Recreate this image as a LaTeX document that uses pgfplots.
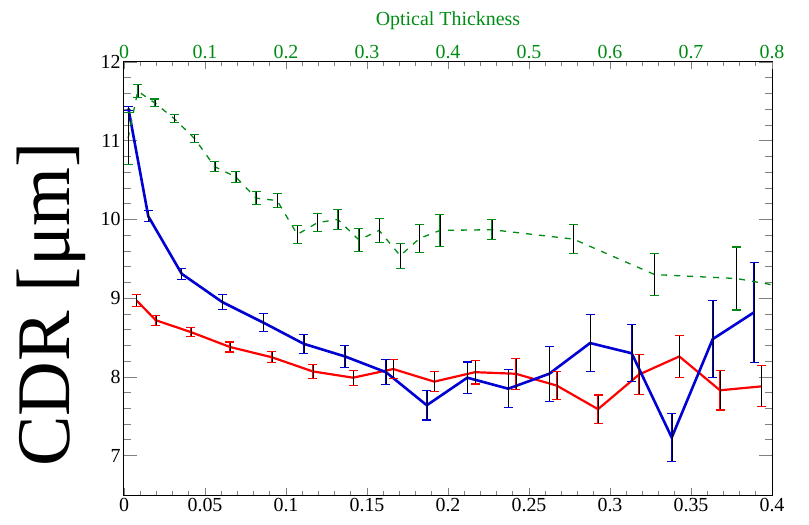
\documentclass[border=0pt]{standalone}
\usepackage{fontspec}
\setmainfont{Liberation Serif}
\usepackage{pgfplots}
\pgfplotsset{compat=1.18}
\definecolor{dgreen}{RGB}{0,140,20}
\definecolor{myblue}{RGB}{0,0,210}
\definecolor{myred}{RGB}{255,0,0}

\pgfplotsset{
  bars/.style={error bars/.cd, y dir=both, y explicit, error mark=none,
    error bar style={draw=#1, line width=1.1bp, solid}},
  caps/.style={draw=none, forget plot, error bars/.cd, y dir=both, y explicit,
    error bar style={draw=none},
    error mark options={rotate=90, mark size=4.5bp, line width=1.1bp, #1, solid}},
}

\pgfplotstableread{
x y e
0.0078 8.97 0.08
0.0196 8.72 0.064
0.0412 8.57 0.057
0.0654 8.38 0.064
0.0912 8.25 0.068
0.1165 8.07 0.085
0.1414 7.99 0.095
0.1662 8.10 0.12
0.1915 7.94 0.127
0.2167 8.06 0.15
0.2418 8.04 0.195
0.2671 7.89 0.18
0.2926 7.59 0.18
0.3179 8.03 0.25
0.3428 8.26 0.27
0.3679 7.83 0.25
0.3936 7.88 0.26
}\redtab

\pgfplotstableread{
x y e
0.0027 11.41 0.03
0.0150 10.04 0.07
0.0356 9.31 0.07
0.0607 8.95 0.095
0.0860 8.69 0.117
0.1110 8.42 0.123
0.1364 8.26 0.14
0.1617 8.06 0.157
0.1869 7.64 0.187
0.2119 7.99 0.2
0.2372 7.85 0.24
0.2625 8.04 0.35
0.2877 8.43 0.36
0.3134 8.30 0.36
0.3381 7.23 0.3
0.3634 8.48 0.49
0.3889 8.82 0.635
}\bluetab

\pgfplotstableread{
x y e
0.005 11.03 0.33
0.017 11.63 0.08
0.038 11.48 0.05
0.062 11.28 0.05
0.087 11.03 0.053
0.112 10.67 0.066
0.138 10.54 0.074
0.163 10.27 0.08
0.189 10.24 0.085
0.214 9.81 0.11
0.239 9.96 0.113
0.264 10.00 0.123
0.290 9.74 0.142
0.315 9.86 0.157
0.341 9.54 0.16
0.365 9.76 0.176
0.390 9.86 0.2
0.454 9.87 0.125
0.555 9.75 0.185
0.655 9.30 0.27
0.756 9.25 0.4
0.850 9.08 0.0
}\greentab

\begin{document}
\begin{tikzpicture}
\begin{axis}[
  at={(0,0)}, anchor=south west,
  width=648bp, height=433bp, scale only axis,
  xmin=0, xmax=0.4, ymin=6.5, ymax=12,
  xtick={0,0.05,0.1,0.15,0.2,0.25,0.3,0.35,0.4},
  minor x tick num=4,
  ytick={7,8,9,10,11,12},
  minor y tick num=4,
  xtick pos=bottom, ytick pos=both, yticklabel pos=left,
  tick align=inside,
  major tick length=13bp, minor tick length=7bp,
  xtick style={/pgfplots/major tick length=7bp,/pgfplots/minor tick length=4bp},
  tick style={line width=0.8bp},
  axis line style={line width=1bp},
  ticklabel style={font=\fontsize{20}{24}\selectfont},
  /pgf/number format/assume math mode=true,
  xticklabel style={/pgf/number format/fixed, /pgf/number format/precision=2},
  ylabel={CDR [μm]},
  ylabel style={font=\fontsize{76}{80}\selectfont, at={(axis description cs:-0.112,0.44)}, anchor=center},
]
\addplot[draw=myred, line width=2.2bp, bars=myred]
  table[x=x, y=y, y error=e] {\redtab};
\addplot[draw=myblue, line width=2.6bp, bars=myblue]
  table[x=x, y=y, y error=e] {\bluetab};
\addplot[caps=myred] table[x=x, y=y, y error=e] {\redtab};
\addplot[caps=myblue] table[x=x, y=y, y error=e] {\bluetab};
\end{axis}
\begin{axis}[
  at={(0,0)}, anchor=south west,
  width=648bp, height=433bp, scale only axis,
  xmin=0, xmax=0.8, ymin=6.5, ymax=12,
  axis x line*=top, axis y line=none,
  xtick={0,0.1,0.2,0.3,0.4,0.5,0.6,0.7,0.8},
  minor x tick num=4,
  tick align=inside,
  major tick length=7bp, minor tick length=4bp,
  tick style={line width=0.8bp},
  axis line style={line width=1bp},
  xticklabel style={dgreen, font=\fontsize{20}{24}\selectfont, /pgf/number format/fixed},
  /pgf/number format/assume math mode=true,
  xlabel={Optical Thickness},
  xlabel style={dgreen, font=\fontsize{20}{24}\selectfont, yshift=8bp},
]
\addplot[draw=dgreen, line width=1.3bp, dash pattern=on 6bp off 7bp, bars=dgreen]
  table[x=x, y=y, y error=e] {\greentab};
\addplot[caps=dgreen] table[x=x, y=y, y error=e] {\greentab};
\end{axis}
\pgfresetboundingbox
\path (-124bp,-30bp) rectangle (685bp,495bp);
\end{tikzpicture}
\end{document}
